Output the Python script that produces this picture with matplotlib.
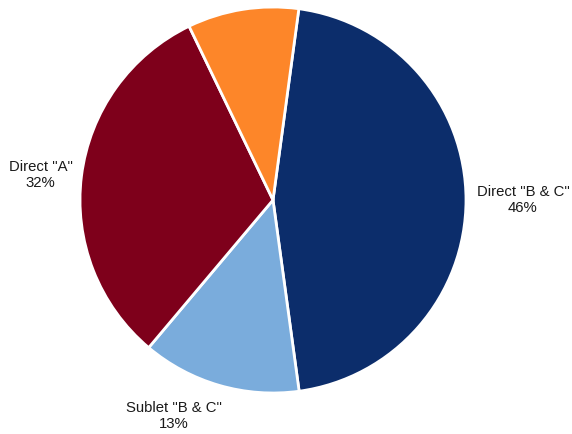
import numpy as np
import matplotlib.pyplot as plt

# slice data (clockwise from top)
labels = ['Direct "B & C"', 'Sublet "B & C"', 'Direct "A"', '']
values = [45.7, 13.3, 31.7, 9.3]
colors = ['#0c2d6b', '#7aacdc', '#7e001b', '#fd8629']

# label placement: distance from centre (in radii) and angle nudge (deg)
lab_dist = [1.295, 1.23, 1.21, 1.2]
lab_nudge = [0.0, -8.5, 1.0, 0.0]

plt.rcParams['font.family'] = ['Liberation Sans', 'DejaVu Sans']

fig = plt.figure(figsize=(5.72, 4.34), dpi=100)
ax = fig.add_axes([80 / 572, 41 / 434, 386 / 572, 386 / 434])

wedges, texts = ax.pie(values, colors=colors, startangle=82.3, counterclock=False,
                       radius=1.0, labels=None,
                       wedgeprops=dict(edgecolor='white', linewidth=2))

total = float(sum(values))
for w, lab, v, d, nd in zip(wedges, labels, values, lab_dist, lab_nudge):
    if not lab:
        continue
    mid = np.deg2rad((w.theta1 + w.theta2) / 2 + nd)
    pct = int(round(100 * v / total))
    ax.text(d * np.cos(mid), d * np.sin(mid), f"{lab}\n{pct}%",
            ha='center', va='center', fontsize=10.7, color='#1a1a1a',
            linespacing=1.2, clip_on=False)

ax.set_xlim(-1, 1)
ax.set_ylim(-1, 1)
ax.set_aspect('equal')
ax.axis('off')

fig.savefig('out.png', dpi=100)
